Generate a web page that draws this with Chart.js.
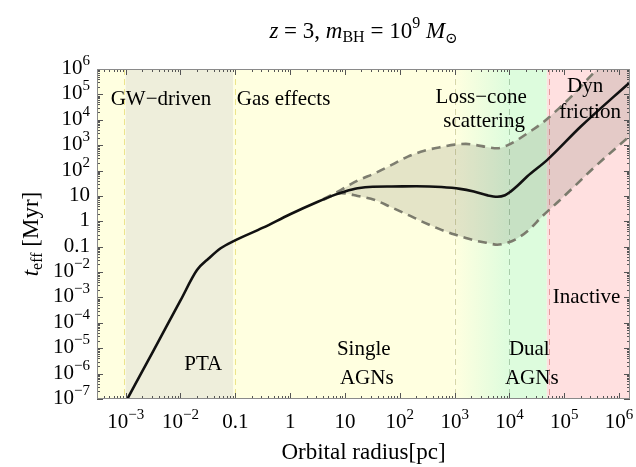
<!DOCTYPE html>
<html>
<head>
<meta charset="utf-8">
<script src="https://cdn.jsdelivr.net/npm/chart.js@4.4.0/dist/chart.umd.min.js"></script>
<style>
  body { margin: 0; background: #fff; }
</style>
</head>
<body>
<canvas id="timescaleChart" width="636" height="467"></canvas>
<script>
// central curve: orbital radius [pc] vs effective timescale [Myr]
const radius = [1e-3, 3.2e-3, 1e-2, 0.02, 0.033, 0.054, 0.095, 0.32, 1, 3.2, 6.5, 10, 17, 32, 71, 200,
                575, 1260, 2240, 4000, 6000, 8300, 1.05e4, 1.4e4, 2.1e4, 4.9e4, 2e5, 1.6e6];
const tEff = [7.6e-8, 7.9e-6, 7.6e-4, 1.2e-2, 0.035, 0.087, 0.17, 0.56, 1.9, 5.9, 11, 15, 20, 23, 23.4, 24,
              22.4, 19, 14.8, 10.5, 9.3, 10.7, 14.8, 25, 58, 263, 5400, 3.1e5];

// uncertainty band (dashed bounds)
const bandRadius = [4, 8.5, 17, 35, 71, 140, 280, 575, 1000, 1600, 2500, 4000, 6000, 8900, 1.38e4, 2.24e4,
                    4e4, 8e4, 1.6e5, 3.2e5, 1.6e6];
const tUpper = [7.4, 17.4, 40, 78, 166, 355, 603, 851, 1047, 1122, 1000, 832, 759, 955, 1585, 3162,
                7586, 28200, 1.2e5, 6.0e5, 1.6e7];
const tLower = [7.1, 12.9, 10, 6.9, 3.5, 1.8, 0.89, 0.46, 0.30, 0.22, 0.17, 0.14, 0.12, 0.14, 0.21, 0.45,
                1.6, 6.3, 26, 110, 2400];

// regime boundaries along the radius axis [pc]
const regionEdges = [3.1e-4, 1.0e-3, 0.092, 1e3, 1e4, 4.8e4, 1.58e6];
const regimeLines = [9.4e-4, 0.1, 1e3, 1e4, 5.2e4];

// axis ticks
const xTicks = [1e-3, 1e-2, 0.1, 1, 10, 1e2, 1e3, 1e4, 1e5, 1e6];
const yTicks = [1e6, 1e5, 1e4, 1e3, 1e2, 10, 1, 0.1, 1e-2, 1e-3, 1e-4, 1e-5, 1e-6, 1e-7];

// regime labels: text, radius, time (baseline)
const regionLabels = [
  ['GW\u2212driven', 4.4e-3, 3.8e4],
  ['Gas effects', 0.76, 3.8e4],
  ['Loss\u2212cone', 3050, 4.6e4],
  ['scattering', 3450, 5.1e3],
  ['Dyn', 2.4e5, 1.2e5],
  ['friction', 2.95e5, 1.2e4],
  ['PTA', 0.026, 1.4e-6],
  ['Single', 22, 5.4e-6],
  ['AGNs', 25, 3.9e-7],
  ['Dual', 2.3e4, 5.4e-6],
  ['AGNs', 2.55e4, 3.9e-7],
  ['Inactive', 2.55e5, 6.0e-4]
];

const serif = '"Liberation Serif", "Times New Roman", Tinos, "DejaVu Serif", serif';

function setFont(ctx, size, style) {
  ctx.font = ((style ? style + ' ' : '') + size + 'px ' + serif);
}

function drawRuns(ctx, runs, x, y, align) {
  let w = 0;
  runs.forEach(r => {
    setFont(ctx, r[1], r[2]);
    w += ctx.measureText(r[0]).width;
  });
  let cx = align === 'center' ? x - w / 2 : (align === 'right' ? x - w : x);
  ctx.textAlign = 'left';
  ctx.textBaseline = 'alphabetic';
  runs.forEach(r => {
    setFont(ctx, r[1], r[2]);
    ctx.fillText(r[0], cx, y + (r[3] || 0));
    cx += ctx.measureText(r[0]).width;
  });
}

function tickRuns(v) {
  const e = Math.round(Math.log10(v));
  if (e >= -1 && e <= 1) return [[String(v), 21]];
  return [['10', 21], [String(e).replace('-', '\u2212'), 15, '', -9]];
}

const regimePlugin = {
  id: 'regimes',
  beforeDatasetsDraw(chart) {
    const { ctx, chartArea: a, scales: { x } } = chart;
    const fills = ['#ffffe0', '#eeeedb', '#ffffe0', 'fade', '#ddfcdd', '#ffe0e0'];
    const lineColors = ['#ece48c', '#ece48c', '#d6d6a8', '#a9cca9', '#e49c9c'];
    ctx.save();
    for (let i = 0; i < regionEdges.length - 1; i++) {
      const x0 = x.getPixelForValue(regionEdges[i]);
      const x1 = x.getPixelForValue(regionEdges[i + 1]);
      let f = fills[i];
      if (f === 'fade') {
        f = ctx.createLinearGradient(x0, 0, x1, 0);
        f.addColorStop(0, '#ffffe0');
        f.addColorStop(1, '#ddfcdd');
      }
      ctx.fillStyle = f;
      ctx.fillRect(x0, a.top, x1 - x0, a.bottom - a.top);
    }
    ctx.lineWidth = 1;
    ctx.setLineDash([6, 4]);
    regimeLines.forEach((v, i) => {
      const px = Math.round(x.getPixelForValue(v)) + 0.5;
      ctx.strokeStyle = lineColors[i];
      ctx.beginPath();
      ctx.moveTo(px, a.top);
      ctx.lineTo(px, a.bottom);
      ctx.stroke();
    });
    ctx.restore();
  }
};

const framePlugin = {
  id: 'frame',
  afterDatasetsDraw(chart) {
    const { ctx, chartArea: a, scales: { x, y } } = chart;
    ctx.save();
    ctx.strokeStyle = '#555';
    ctx.lineWidth = 1;
    ctx.beginPath();
    for (let d = -4; d <= 6; d++) {
      for (let k = 1; k <= 9; k++) {
        const v = k * Math.pow(10, d);
        const len = k === 1 ? 6 : 3;
        if (v >= x.min && v <= x.max) {
          const px = Math.round(x.getPixelForValue(v)) + 0.5;
          ctx.moveTo(px, a.bottom); ctx.lineTo(px, a.bottom - len);
          ctx.moveTo(px, a.top); ctx.lineTo(px, a.top + len);
        }
      }
    }
    for (let d = -7; d <= 6; d++) {
      for (let k = 1; k <= 9; k++) {
        const v = k * Math.pow(10, d);
        const len = k === 1 ? 6 : 3;
        if (v >= y.min * 0.999 && v <= y.max * 1.001) {
          const py = Math.round(y.getPixelForValue(v)) + 0.5;
          ctx.moveTo(a.left, py); ctx.lineTo(a.left + len, py);
          ctx.moveTo(a.right, py); ctx.lineTo(a.right - len, py);
        }
      }
    }
    ctx.stroke();
    ctx.strokeStyle = '#8a8a8a';
    ctx.strokeRect(a.left + 0.5, a.top + 0.5, a.right - a.left - 1, a.bottom - a.top - 1);
    ctx.restore();
  }
};

const textPlugin = {
  id: 'texts',
  afterDraw(chart) {
    const { ctx, chartArea: a, scales: { x, y } } = chart;
    ctx.save();
    ctx.fillStyle = '#000';
    xTicks.forEach(v => drawRuns(ctx, tickRuns(v), x.getPixelForValue(v), a.bottom + 29, 'center'));
    yTicks.forEach(v => drawRuns(ctx, tickRuns(v), 90, y.getPixelForValue(v) + 5, 'right'));
    regionLabels.forEach(l => drawRuns(ctx, [[l[0], 21]], x.getPixelForValue(l[1]), y.getPixelForValue(l[2]), 'center'));

    // title
    drawRuns(ctx, [['z', 23, 'italic'], [' = 3, ', 23], ['m', 23, 'italic'], ['BH', 16, '', 4],
      [' = 10', 23], ['9', 16, '', -10], [' ', 23], ['M', 23, 'italic'], ['\u2299', 15, '', 5]],
      (a.left + a.right) / 2, 38, 'center');

    // axis titles
    drawRuns(ctx, [['Orbital radius[pc]', 23]], (a.left + a.right) / 2, 459, 'center');
    ctx.translate(38, (a.top + a.bottom) / 2);
    ctx.rotate(-Math.PI / 2);
    drawRuns(ctx, [['t', 23, 'italic'], ['eff', 16, '', 4], [' [Myr]', 23]], 0, 0, 'center');
    ctx.restore();
  }
};

const toPoints = (xs, ys) => xs.map((v, i) => ({ x: v, y: ys[i] }));

new Chart(document.getElementById('timescaleChart'), {
  type: 'line',
  data: {
    datasets: [{
      label: 'central',
      data: toPoints(radius, tEff),
      borderColor: '#111',
      borderWidth: 2.6,
      pointRadius: 0,
      cubicInterpolationMode: 'monotone',
      fill: false,
      clip: 0,
      order: 0
    },
    {
      label: 'upper',
      data: toPoints(bandRadius, tUpper),
      borderColor: '#7e7e70',
      borderWidth: 2.6,
      borderDash: [9, 6],
      pointRadius: 0,
      cubicInterpolationMode: 'monotone',
      backgroundColor: 'rgba(95, 95, 80, 0.17)',
      fill: '+1',
      clip: 0,
      order: 1
    },
    {
      label: 'lower',
      data: toPoints(bandRadius, tLower),
      borderColor: '#7e7e70',
      borderWidth: 2.6,
      borderDash: [9, 6],
      pointRadius: 0,
      cubicInterpolationMode: 'monotone',
      fill: false,
      clip: 0,
      order: 2
    }]
  },
  options: {
    responsive: false,
    animation: false,
    events: [],
    layout: { padding: { top: 69, right: 6, left: 0, bottom: 0 } },
    plugins: {
      legend: { display: false },
      tooltip: { enabled: false }
    },
    scales: {
      x: {
        type: 'logarithmic',
        min: 3.1e-4,
        max: 1.58e6,
        ticks: { display: false },
        grid: { display: false },
        border: { display: false },
        afterFit(s) { s.height = 68; }
      },
      y: {
        type: 'logarithmic',
        min: 1e-7,
        max: 1e6,
        ticks: { display: false },
        grid: { display: false },
        border: { display: false },
        afterFit(s) { s.width = 97; }
      }
    }
  },
  plugins: [regimePlugin, framePlugin, textPlugin]
});
</script>
</body>
</html>
